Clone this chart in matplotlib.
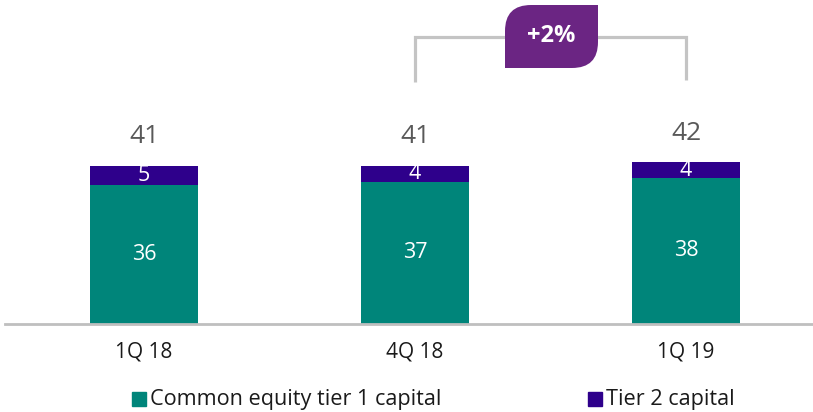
import numpy as np
import matplotlib
matplotlib.use("Agg")
import matplotlib.pyplot as plt
from matplotlib.path import Path
from matplotlib.patches import PathPatch, Rectangle

plt.rcParams['font.family'] = ['Open Sans', 'DejaVu Sans']

quarters = ["1Q 18", "4Q 18", "1Q 19"]
cet1 = [36, 37, 38]
tier2 = [5, 4, 4]
totals = [41, 41, 42]
growth_label = "+2%"

TEAL = "#00857A"
PURPLE = "#2E008B"
BADGE = "#6B2583"
GREY = "#C4C4C4"

fig = plt.figure(figsize=(8.13, 4.12), dpi=100)
ax = fig.add_axes([5 / 813, 1 - 324 / 412, 808 / 813, 324 / 412])
x = np.arange(len(quarters))
w = 108 / 271

ax.bar(x, cet1, width=w, color=TEAL, zorder=2)
ax.bar(x, tier2, width=w, bottom=cet1, color=PURPLE, zorder=2)

for i in range(len(quarters)):
    ax.text(x[i], cet1[i] / 2, str(cet1[i]), ha="center", va="center",
            color="white", fontsize=15.5)
    ax.text(x[i], cet1[i] + tier2[i] / 2, str(tier2[i]), ha="center", va="center",
            color="white", fontsize=15.5)
    ax.annotate(str(totals[i]), (x[i], cet1[i] + tier2[i]), xytext=(0, 21),
                textcoords="offset points", ha="center", va="center",
                color="#595959", fontsize=19)
    ax.text(x[i], -7.2, quarters[i], ha="center", va="center",
            color="#1a1a1a", fontsize=15)

ax.set_xlim(-139 / 271, 669 / 271)
ax.set_ylim(0, 324 / 3.85)
for s in ["top", "right", "left"]:
    ax.spines[s].set_visible(False)
ax.spines["bottom"].set_color("#BFBFBF")
ax.spines["bottom"].set_linewidth(2)
ax.set_xticks([])
ax.set_yticks([])

# bracket between 4Q 18 and 1Q 19
yb = (324 - 37) / 3.85
ax.plot([x[1], x[1], x[2], x[2]], [(324 - 82) / 3.85, yb, yb, (324 - 80) / 3.85],
        color=GREY, lw=2.3, solid_capstyle="butt", solid_joinstyle="miter",
        clip_on=False, zorder=1)

# leaf shaped badge
x0, x1 = (505 - 144) / 271, (598 - 144) / 271
y0, y1 = (324 - 68) / 3.85, (324 - 5) / 3.85
rx, ry = 26 / 271, 26 / 3.85
verts = [(x0, y0), (x1 - rx, y0), (x1, y0), (x1, y0 + ry), (x1, y1),
         (x0 + rx, y1), (x0, y1), (x0, y1 - ry), (x0, y0)]
codes = [Path.MOVETO, Path.LINETO, Path.CURVE3, Path.CURVE3, Path.LINETO,
         Path.LINETO, Path.CURVE3, Path.CURVE3, Path.CLOSEPOLY]
ax.add_patch(PathPatch(Path(verts, codes), facecolor=BADGE, edgecolor="none",
                       clip_on=False, zorder=3))
ax.text((x0 + x1) / 2, (y0 + y1) / 2, growth_label, ha="center", va="center",
        color="white", fontsize=17, fontweight="bold", zorder=4)

# legend
for px, col, lab in [(132, TEAL, "Common equity tier 1 capital"),
                     (588, PURPLE, "Tier 2 capital")]:
    fig.patches.append(Rectangle((px / 813, 1 - 406 / 412), 14 / 813, 14 / 412,
                                 transform=fig.transFigure, color=col, figure=fig))
    fig.text((px + 18) / 813, 1 - 399 / 412, lab, ha="left", va="center",
             fontsize=15.6, color="#1a1a1a")

fig.savefig("out.png", dpi=100)
